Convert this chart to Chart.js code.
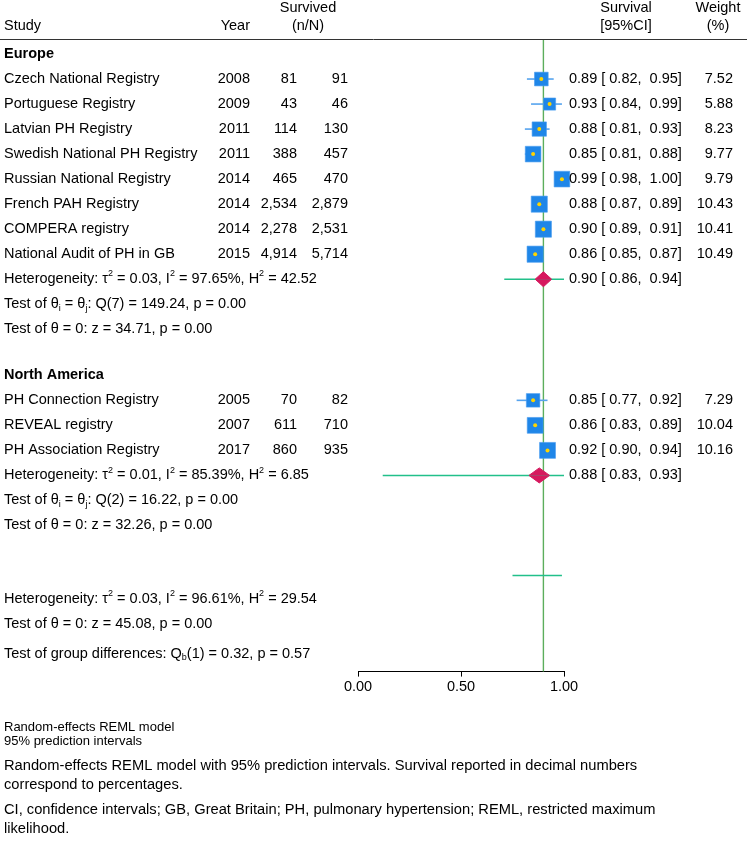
<!DOCTYPE html>
<html>
<head>
<meta charset="utf-8">
<script src="https://cdn.jsdelivr.net/npm/chart.js@4.4.1/dist/chart.umd.min.js"></script>
<style>
  body { margin: 0; background: #fff; }
  #wrap { width: 747px; height: 848px; }
</style>
</head>
<body>
<div id="wrap"><canvas id="forest" width="747" height="848"></canvas></div>
<script>
// study level data
const studies = ["Czech National Registry", "Portuguese Registry", "Latvian PH Registry", "Swedish National PH Registry",
  "Russian National Registry", "French PAH Registry", "COMPERA registry", "National Audit of PH in GB",
  "PH Connection Registry", "REVEAL registry", "PH Association Registry"];
const years = [2008, 2009, 2011, 2011, 2014, 2014, 2014, 2015, 2005, 2007, 2017];
const survived = [81, 43, 114, 388, 465, 2534, 2278, 4914, 70, 611, 860];
const totals = [91, 46, 130, 457, 470, 2879, 2531, 5714, 82, 710, 935];
const est = [0.89, 0.93, 0.88, 0.85, 0.99, 0.88, 0.90, 0.86, 0.85, 0.86, 0.92];
const lo = [0.82, 0.84, 0.81, 0.81, 0.98, 0.87, 0.89, 0.85, 0.77, 0.83, 0.90];
const hi = [0.95, 0.99, 0.93, 0.88, 1.00, 0.89, 0.91, 0.87, 0.92, 0.89, 0.94];
const weights = [7.52, 5.88, 8.23, 9.77, 9.79, 10.43, 10.41, 10.49, 7.29, 10.04, 10.16];
const region = [0, 0, 0, 0, 0, 0, 0, 0, 1, 1, 1];

// subgroup summaries
const groups = ["Europe", "North America"];
const groupEst = [0.90, 0.88];
const groupLo = [0.86, 0.83];
const groupHi = [0.94, 0.93];
const groupPiLo = [0.71, 0.12];
const groupPiHi = [1.00, 1.00];
const groupTau2 = ["0.03", "0.01"];
const groupI2 = ["97.65", "85.39"];
const groupH2 = ["42.52", "6.85"];
const groupQdf = ["7", "2"];
const groupQ = ["149.24", "16.22"];
const groupZ = ["34.71", "32.26"];

// overall
const overallEst = 0.90;
const overallPi = [0.75, 0.99];
const overallStats = { tau2: "0.03", i2: "96.61", h2: "29.54", z: "45.08", qb: "0.32", qbdf: "1", qbp: "0.57" };

const xTicks = [0, 0.5, 1];

// row layout (1 row = 25px)
const groupStart = [0, 12.84];
const overallRow = 20.84;
const yMin = -0.6, yMax = -0.6 + 632 / 25;

const studyRow = [];
let k = [0, 0];
for (let i = 0; i < studies.length; i++) {
  const g = region[i];
  k[g]++;
  studyRow.push(groupStart[g] + k[g]);
}
const nIn = groups.map((g, gi) => region.filter(r => r === gi).length);
const groupRow = groups.map((g, gi) => groupStart[gi] + nIn[gi] + 1);

const FONT = '"Liberation Sans", Arial, Helvetica, sans-serif';
const blue = '#1f86e8', whisk = '#55a3ee', dot = '#ffd400', dia = '#d6185e', pi = '#22c08a', vline = '#5cae5c';

const datasets = [];
// overall vertical line
datasets.push({ type: 'line', data: [{ x: overallEst, y: yMin }, { x: overallEst, y: yMax }],
  borderColor: vline, borderWidth: 1.4, pointRadius: 0, order: 20, clip: false });
// prediction intervals
groups.forEach((g, gi) => {
  datasets.push({ type: 'line', data: [{ x: groupPiLo[gi], y: groupRow[gi] }, { x: groupPiHi[gi], y: groupRow[gi] }],
    borderColor: pi, borderWidth: 1.5, pointRadius: 0, order: 10, clip: false });
});
datasets.push({ type: 'line', data: [{ x: overallPi[0], y: overallRow }, { x: overallPi[1], y: overallRow }],
  borderColor: pi, borderWidth: 1.5, pointRadius: 0, order: 10, clip: false });
// CI whiskers
studies.forEach((s, i) => {
  datasets.push({ type: 'line', data: [{ x: lo[i], y: studyRow[i] }, { x: hi[i], y: studyRow[i] }],
    borderColor: whisk, borderWidth: 1.6, pointRadius: 0, order: 9, clip: false });
});
// diamonds (two halves filled to the row line)
groups.forEach((g, gi) => {
  const r = groupRow[gi];
  [-0.3, 0.3].forEach(h => {
    datasets.push({ type: 'line',
      data: [{ x: groupLo[gi], y: r }, { x: groupEst[gi], y: r + h }, { x: groupHi[gi], y: r }],
      borderColor: dia, backgroundColor: dia, borderWidth: 1, fill: { value: r },
      pointRadius: 0, tension: 0, order: 5, clip: false });
  });
});
// study squares, area ~ weight
datasets.push({ type: 'scatter', data: studies.map((s, i) => ({ x: est[i], y: studyRow[i] })),
  pointStyle: 'rect', pointRadius: weights.map(w => 5 * Math.sqrt(w) / Math.SQRT2),
  backgroundColor: blue, borderColor: '#4a9cf0', borderWidth: 0.6, order: 2, clip: false });
datasets.push({ type: 'scatter', data: studies.map((s, i) => ({ x: est[i], y: studyRow[i] })),
  pointStyle: 'circle', pointRadius: 2, backgroundColor: dot, borderWidth: 0, order: 1, clip: false });

function rich(ctx, parts, x, y, size) {
  let cx = x;
  parts.forEach(p => {
    if (typeof p === 'string') {
      ctx.font = size + 'px ' + FONT;
      ctx.fillText(p, cx, y);
      cx += ctx.measureText(p).width;
    } else {
      const s = size * 0.62;
      ctx.font = s + 'px ' + FONT;
      const dy = p[1] === 'sup' ? -size * 0.36 : size * 0.28;
      ctx.fillText(p[0], cx, y + dy);
      cx += ctx.measureText(p[0]).width;
    }
  });
}

const fmt = v => v.toLocaleString('en-US');
const f2 = v => v.toFixed(2);

const tablePlugin = {
  id: 'table',
  afterDraw(chart) {
    const ctx = chart.ctx, ys = chart.scales.y;
    const Y = r => ys.getPixelForValue(r);
    const fs = 14.5;
    ctx.save();
    ctx.fillStyle = '#000';
    ctx.textBaseline = 'middle';
    ctx.font = fs + 'px ' + FONT;

    // header
    ctx.textAlign = 'left';
    ctx.fillText('Study', 4, 26);
    ctx.textAlign = 'right';
    ctx.fillText('Year', 250, 26);
    ctx.textAlign = 'center';
    ctx.fillText('Survived', 308, 8);
    ctx.fillText('(n/N)', 308, 26);
    ctx.fillText('Survival', 626, 8);
    ctx.fillText('[95%CI]', 626, 26);
    ctx.fillText('Weight', 718, 8);
    ctx.fillText('(%)', 718, 26);
    ctx.strokeStyle = '#333';
    ctx.lineWidth = 1;
    ctx.beginPath();
    ctx.moveTo(0, 39.5);
    ctx.lineTo(747, 39.5);
    ctx.stroke();

    // group headers
    groups.forEach((g, gi) => {
      ctx.textAlign = 'left';
      ctx.font = 'bold ' + fs + 'px ' + FONT;
      ctx.fillText(g, 4, Y(groupStart[gi]));
    });

    // studies
    ctx.font = fs + 'px ' + FONT;
    studies.forEach((s, i) => {
      const y = Y(studyRow[i]);
      ctx.textAlign = 'left';
      ctx.fillText(s, 4, y);
      ctx.fillText(f2(est[i]) + ' [ ' + f2(lo[i]) + ',  ' + f2(hi[i]) + ']', 569, y);
      ctx.textAlign = 'right';
      ctx.fillText(String(years[i]), 250, y);
      ctx.fillText(fmt(survived[i]), 297, y);
      ctx.fillText(fmt(totals[i]), 348, y);
      ctx.fillText(f2(weights[i]), 733, y);
    });

    // group stats
    ctx.textAlign = 'left';
    groups.forEach((g, gi) => {
      const r = groupRow[gi];
      ctx.font = fs + 'px ' + FONT;
      ctx.fillText(f2(groupEst[gi]) + ' [ ' + f2(groupLo[gi]) + ',  ' + f2(groupHi[gi]) + ']', 569, Y(r));
      rich(ctx, ['Heterogeneity: τ', ['2', 'sup'], ' = ' + groupTau2[gi] + ', I', ['2', 'sup'],
        ' = ' + groupI2[gi] + '%, H', ['2', 'sup'], ' = ' + groupH2[gi]], 4, Y(r), fs);
      rich(ctx, ['Test of θ', ['i', 'sub'], ' = θ', ['j', 'sub'], ': Q(' + groupQdf[gi] + ') = ' + groupQ[gi] + ', p = 0.00'],
        4, Y(r + 1), fs);
      rich(ctx, ['Test of θ = 0: z = ' + groupZ[gi] + ', p = 0.00'], 4, Y(r + 2), fs);
    });

    // overall
    const o = overallStats;
    rich(ctx, ['Heterogeneity: τ', ['2', 'sup'], ' = ' + o.tau2 + ', I', ['2', 'sup'],
      ' = ' + o.i2 + '%, H', ['2', 'sup'], ' = ' + o.h2], 4, Y(overallRow + 0.93), fs);
    rich(ctx, ['Test of θ = 0: z = ' + o.z + ', p = 0.00'], 4, Y(overallRow + 1.93), fs);
    rich(ctx, ['Test of group differences: Q', ['b', 'sub'], '(' + o.qbdf + ') = ' + o.qb + ', p = ' + o.qbp],
      4, Y(overallRow + 3.13), fs);

    // footnotes
    ctx.font = '13px ' + FONT;
    ctx.fillText('Random-effects REML model', 4, 727);
    ctx.fillText('95% prediction intervals', 4, 741);
    ctx.font = '14.7px ' + FONT;
    ctx.fillText('Random-effects REML model with 95% prediction intervals. Survival reported in decimal numbers', 4, 766);
    ctx.fillText('correspond to percentages.', 4, 785);
    ctx.fillText('CI, confidence intervals; GB, Great Britain; PH, pulmonary hypertension; REML, restricted maximum', 4, 810);
    ctx.fillText('likelihood.', 4, 829);
    ctx.restore();
  }
};

new Chart(document.getElementById('forest'), {
  type: 'scatter',
  data: { datasets: datasets },
  options: {
    responsive: false,
    animation: false,
    devicePixelRatio: 1,
    layout: { padding: { left: 358, right: 183, top: 39, bottom: 150 } },
    plugins: { legend: { display: false }, tooltip: { enabled: false } },
    scales: {
      x: {
        type: 'linear', min: 0, max: 1,
        afterBuildTicks: s => { s.ticks = xTicks.map(v => ({ value: v })); },
        ticks: { color: '#000', font: { family: FONT, size: 14.5 }, padding: 2, maxRotation: 0,
          callback: v => v.toFixed(2) },
        grid: { drawOnChartArea: false, tickLength: 5, color: '#000' },
        border: { color: '#000', width: 1 }
      },
      y: { type: 'linear', reverse: true, min: yMin, max: yMax, display: false }
    }
  },
  plugins: [tablePlugin]
});
</script>
</body>
</html>
